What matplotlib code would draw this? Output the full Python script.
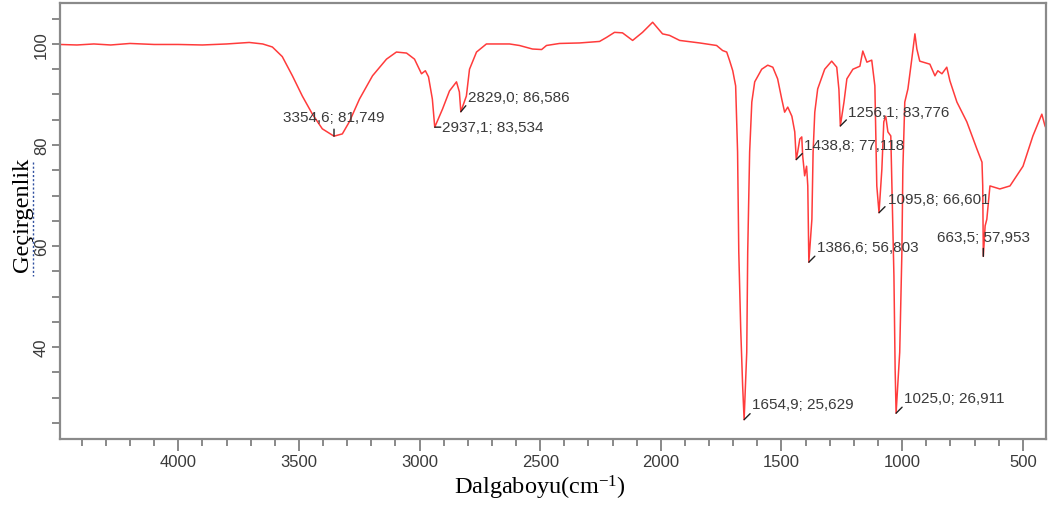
import matplotlib
matplotlib.use('Agg')
import matplotlib.pyplot as plt
from matplotlib.ticker import MultipleLocator
from matplotlib.lines import Line2D

# FTIR spectrum (wavenumber cm-1, transmittance %)
wavenumber = [
    4490, 4420, 4350, 4280, 4200, 4100, 4000, 3900, 3800, 3706, 3650, 3610,
    3569, 3527, 3486, 3444, 3403, 3354.6, 3320, 3291, 3249, 3195, 3137, 3096,
    3054, 3021, 2992, 2976, 2963, 2947, 2937.1, 2905, 2876, 2847, 2835,
    2829.0, 2806, 2793, 2764, 2723, 2669, 2627, 2586, 2532, 2494, 2474,
    2420, 2337, 2254, 2225, 2192, 2159, 2117, 2076, 2034, 1993, 1964, 1922,
    1839, 1785, 1769, 1744, 1727, 1715, 1702, 1690, 1682, 1677, 1669, 1661,
    1654.9, 1644, 1640, 1632, 1623, 1611, 1582, 1557, 1536, 1516, 1499, 1487,
    1474, 1457, 1445, 1438.8, 1433, 1424, 1416, 1412, 1404, 1396, 1391,
    1386.6, 1374, 1369, 1362, 1350, 1321, 1292, 1271, 1262, 1256.1, 1241,
    1229, 1204, 1175, 1163, 1146, 1126, 1113, 1105, 1095.8, 1084, 1076,
    1068, 1059, 1047, 1039, 1034, 1029, 1025.0, 1010, 1001, 997, 989, 976,
    960, 947, 939, 927, 885, 864, 852, 835, 815, 802, 773, 732, 690, 669,
    666, 663.5, 656, 649, 636, 595, 553, 499, 458, 421, 408, 396,
]
transmittance = [
    99.9, 99.8, 100.0, 99.8, 100.1, 99.9, 99.9, 99.8, 100.0, 100.3, 100.0, 99.4,
    97.5, 93.7, 89.7, 86.1, 83.2, 81.749, 82.2, 84.6, 89.1, 93.7, 97.0, 98.4,
    98.2, 97.0, 94.1, 94.7, 93.5, 89.1, 83.534, 87.1, 90.7, 92.5, 90.5,
    86.586, 89.7, 95.0, 98.4, 100.0, 100.0, 100.0, 99.7, 99.0, 98.9, 99.7,
    100.1, 100.2, 100.5, 101.3, 102.3, 102.2, 100.7, 102.3, 104.3, 102.0, 101.7, 100.7,
    100.2, 99.8, 99.7, 98.7, 98.4, 96.7, 94.7, 91.7, 78.6, 58.8, 43.6, 32.3,
    25.629, 39.0, 58.8, 78.6, 88.5, 92.5, 95.0, 95.8, 95.4, 93.1, 89.1, 86.5,
    87.5, 85.7, 82.6, 77.118, 78.6, 81.2, 81.6, 77.8, 73.9, 75.8, 71.9,
    56.803, 65.3, 78.6, 86.5, 91.1, 95.0, 96.6, 95.4, 91.0, 83.776, 88.5,
    93.1, 95.0, 95.6, 98.6, 96.4, 96.8, 91.7, 71.9, 66.601, 75.2, 84.6,
    85.7, 82.6, 81.8, 65.3, 54.1, 35.6, 26.911, 39.0, 58.8, 75.2, 88.5, 91.1,
    97.0, 102.0, 99.0, 96.6, 96.0, 93.7, 94.7, 94.1, 95.4, 92.7, 88.5, 84.6, 79.2, 76.6,
    72.0, 57.953, 64.0, 65.3, 71.9, 71.3, 71.9, 75.8, 81.8, 86.1, 83.8, 82.6,
]

# labelled peaks
peak_wn = [3354.6, 2937.1, 2829.0, 1438.8, 1256.1, 1386.6, 1095.8, 663.5, 1654.9, 1025.0]
peak_t = [81.749, 83.534, 86.586, 77.118, 83.776, 56.803, 66.601, 57.953, 25.629, 26.911]

# layout of the peak labels (pixels from the peak): text anchor, leader end, alignment
text_off = [(0, 12), (7, 0), (7, 15), (8, 15), (8, 14), (8, 15), (9, 14), (0, 12), (8, 16), (8, 15)]
lead_off = [(0, 7), (6, 0), (5, 6), (6, 6), (6, 6), (6, 6), (6, 6), (0, 8), (6, 6), (6, 6)]
text_align = [('center', 'bottom'), ('left', 'center'), ('left', 'center'), ('left', 'center'),
              ('left', 'center'), ('left', 'center'), ('left', 'center'), ('center', 'bottom'),
              ('left', 'center'), ('left', 'center')]

plt.rcParams['font.family'] = ['Liberation Sans', 'DejaVu Sans']
plt.rcParams['mathtext.fontset'] = 'custom'
plt.rcParams['mathtext.rm'] = 'Liberation Serif'
plt.rcParams['mathtext.it'] = 'Liberation Serif:italic'

fig = plt.figure(figsize=(10.48, 5.06), dpi=100)
ax = fig.add_axes([0.0573, 0.1304, 0.9405, 0.8616])

ax.plot(wavenumber, transmittance, color='#ff3b3b', lw=1.1)

for w, t, to, lo, al in zip(peak_wn, peak_t, text_off, lead_off, text_align):
    label = f"{w:.1f}; {t:.3f}".replace('.', ',')
    ax.annotate('', xy=(w, t), xytext=lo, textcoords='offset pixels',
                arrowprops=dict(arrowstyle='-', color='#202020', lw=1.0,
                                shrinkA=0, shrinkB=0))
    ax.annotate(label, xy=(w, t), xytext=to, textcoords='offset pixels',
                ha=al[0], va=al[1], fontsize=11, color='#3a3a3a')

ax.set_xlim(4490, 405)
ax.set_ylim(21.8, 108.1)

ax.xaxis.set_major_locator(MultipleLocator(500))
ax.xaxis.set_minor_locator(MultipleLocator(100))
ax.yaxis.set_major_locator(MultipleLocator(20))
ax.yaxis.set_minor_locator(MultipleLocator(5))
ax.set_xticks([4000, 3500, 3000, 2500, 2000, 1500, 1000, 500])
ax.set_yticks([40, 60, 80, 100])

ax.tick_params(axis='x', which='major', length=8.5, width=1.1, color='#6a6a6a',
               labelsize=12, labelcolor='#3a3a3a', pad=2)
ax.tick_params(axis='x', which='minor', length=5, width=1.1, color='#6a6a6a')
ax.tick_params(axis='y', which='both', length=6, width=1.1, color='#6a6a6a',
               labelsize=12, labelcolor='#3a3a3a', pad=2)
for lab in ax.get_yticklabels():
    lab.set_rotation(90)
    lab.set_va('center')

for sp in ax.spines.values():
    sp.set_color('#8a8a8a')
    sp.set_linewidth(1.6)

ax.set_xlabel('Dalgaboyu(cm$^{-1}$)', family='Liberation Serif', fontsize=17.5,
              color='black', va='center')
ax.xaxis.set_label_coords(0.487, -0.11)
ax.set_ylabel('Geçirgenlik', family='Liberation Serif', fontsize=17.5,
              color='black', va='center')
ax.yaxis.set_label_coords(-0.0385, 0.516)

# dotted spell-check underline beside the y label, as in the source image
fig.add_artist(Line2D([33 / 1048, 33 / 1048], [1 - 163 / 506, 1 - 277 / 506],
                      transform=fig.transFigure, color='#3050a0', lw=1.0,
                      linestyle=(0, (1.5, 1.5))))

fig.savefig('out.png', dpi=100)
